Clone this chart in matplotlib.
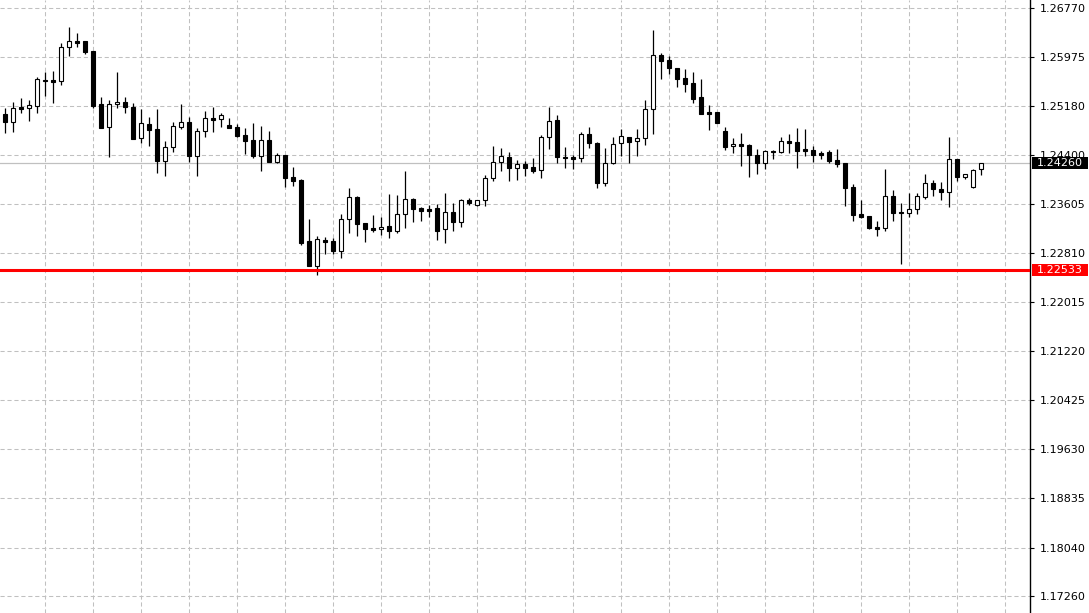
import matplotlib
matplotlib.use("Agg")
import matplotlib.pyplot as plt
import matplotlib.transforms as mtransforms
from matplotlib.patches import Rectangle
import numpy as np

plt.rcParams['lines.scale_dashes'] = False
plt.rcParams['font.family'] = ['DejaVu Sans']

opens = [1.25057, 1.24933, 1.25171, 1.25160, 1.25192, 1.25613, 1.25603, 1.25597, 1.26137, 1.26234,
         1.26240, 1.26078, 1.25214, 1.24852, 1.25214, 1.25252, 1.25165, 1.24663, 1.24890, 1.24814,
         1.24301, 1.24517, 1.24852, 1.24922, 1.24382, 1.24776, 1.24992, 1.24971, 1.24874, 1.24841,
         1.24712, 1.24636, 1.24382, 1.24636, 1.24285, 1.24393, 1.24031, 1.23988, 1.23000, 1.22595,
         1.23016, 1.23000, 1.22843, 1.23351, 1.23707, 1.23286, 1.23205, 1.23200, 1.23243, 1.23167,
         1.23432, 1.23680, 1.23529, 1.23518, 1.23529, 1.23189, 1.23464, 1.23302, 1.23659, 1.23578,
         1.23659, 1.24015, 1.24274, 1.24366, 1.24188, 1.24247, 1.24199, 1.24145, 1.24679, 1.24960,
         1.24366, 1.24366, 1.24339, 1.24728, 1.24582, 1.23945, 1.24258, 1.24582, 1.24679, 1.24620,
         1.24663, 1.25133, 1.26013, 1.25932, 1.25802, 1.25640, 1.25554, 1.25327, 1.25090, 1.25090,
         1.24782, 1.24533, 1.24571, 1.24555, 1.24393, 1.24269, 1.24458, 1.24436, 1.24620, 1.24598,
         1.24490, 1.24469, 1.24425, 1.24436, 1.24312, 1.24263, 1.23875, 1.23437, 1.23405, 1.23227,
         1.23205, 1.23729, 1.23475, 1.23459, 1.23513, 1.23718, 1.23934, 1.23842, 1.23799, 1.24328,
         1.24031, 1.23869, 1.24166]
highs = [1.25160, 1.25257, 1.25311, 1.25284, 1.25662, 1.25738, 1.25754, 1.26202, 1.26472, 1.26364,
         1.26245, 1.26080, 1.25327, 1.25284, 1.25732, 1.25338, 1.25230, 1.25138, 1.25003, 1.25138,
         1.24620, 1.24922, 1.25214, 1.25003, 1.24825, 1.25111, 1.25165, 1.25068, 1.24992, 1.24895,
         1.24825, 1.24906, 1.24863, 1.24787, 1.24431, 1.24398, 1.24204, 1.23999, 1.23356, 1.23081,
         1.23070, 1.23043, 1.23432, 1.23853, 1.23729, 1.23290, 1.23421, 1.23383, 1.23756, 1.23750,
         1.24134, 1.23691, 1.23556, 1.23583, 1.23594, 1.23772, 1.23610, 1.23675, 1.23691, 1.23665,
         1.24069, 1.24539, 1.24501, 1.24436, 1.24312, 1.24296, 1.24339, 1.24717, 1.25165, 1.25041,
         1.24528, 1.24393, 1.24760, 1.24841, 1.24609, 1.24501, 1.24679, 1.24809, 1.24685, 1.24814,
         1.25284, 1.26418, 1.26040, 1.26002, 1.25805, 1.25781, 1.25732, 1.25619, 1.25203, 1.25092,
         1.24852, 1.24674, 1.24744, 1.24571, 1.24485, 1.24474, 1.24474, 1.24690, 1.24733, 1.24836,
         1.24809, 1.24544, 1.24458, 1.24474, 1.24490, 1.24265, 1.23923, 1.23664, 1.23408, 1.23324,
         1.24166, 1.23826, 1.23610, 1.23783, 1.23783, 1.24080, 1.23988, 1.23961, 1.24679, 1.24330,
         1.24082, 1.24166, 1.24262]
lows = [1.24744, 1.24771, 1.25079, 1.24949, 1.25079, 1.25349, 1.25230, 1.25522, 1.26002, 1.26148,
        1.26035, 1.25149, 1.24830, 1.24355, 1.25160, 1.25079, 1.24650, 1.24593, 1.24539, 1.24107,
        1.24058, 1.24436, 1.24809, 1.24285, 1.24058, 1.24690, 1.24771, 1.24852, 1.24830, 1.24679,
        1.24409, 1.24339, 1.24139, 1.24280, 1.24258, 1.23880, 1.23896, 1.22935, 1.22590, 1.22449,
        1.22784, 1.22784, 1.22730, 1.23140, 1.23086, 1.22989, 1.23151, 1.23097, 1.23059, 1.23135,
        1.23216, 1.23313, 1.23324, 1.23383, 1.23016, 1.22962, 1.23167, 1.23232, 1.23583, 1.23575,
        1.23572, 1.23977, 1.24139, 1.23977, 1.23988, 1.24053, 1.24096, 1.24015, 1.24496, 1.24269,
        1.24188, 1.24166, 1.24285, 1.24512, 1.23853, 1.23896, 1.24242, 1.24382, 1.24258, 1.24377,
        1.24555, 1.24733, 1.25624, 1.25705, 1.25500, 1.25419, 1.25241, 1.25060, 1.24798, 1.24906,
        1.24474, 1.24420, 1.24220, 1.24031, 1.24085, 1.24166, 1.24323, 1.24430, 1.24431, 1.24188,
        1.24382, 1.24285, 1.24323, 1.24258, 1.24204, 1.23572, 1.23324, 1.23378, 1.23194, 1.23081,
        1.23167, 1.23324, 1.22627, 1.23383, 1.23437, 1.23680, 1.23734, 1.23664, 1.23545, 1.23977,
        1.24010, 1.23865, 1.24069]
closes = [1.24933, 1.25149, 1.25144, 1.25198, 1.25619, 1.25592, 1.25581, 1.26137, 1.26234, 1.26213,
          1.26067, 1.25187, 1.24836, 1.25214, 1.25252, 1.25165, 1.24658, 1.24906, 1.24803, 1.24301,
          1.24517, 1.24857, 1.24922, 1.24382, 1.24776, 1.24987, 1.24965, 1.25036, 1.24836, 1.24706,
          1.24625, 1.24382, 1.24636, 1.24285, 1.24393, 1.24026, 1.23977, 1.22973, 1.22595, 1.23032,
          1.22989, 1.22843, 1.23351, 1.23707, 1.23281, 1.23189, 1.23178, 1.23237, 1.23167, 1.23432,
          1.23675, 1.23524, 1.23491, 1.23491, 1.23167, 1.23464, 1.23302, 1.23659, 1.23610, 1.23659,
          1.24015, 1.24274, 1.24377, 1.24188, 1.24242, 1.24188, 1.24139, 1.24679, 1.24938, 1.24355,
          1.24339, 1.24323, 1.24728, 1.24582, 1.23945, 1.24258, 1.24566, 1.24695, 1.24609, 1.24668,
          1.25133, 1.26013, 1.25921, 1.25797, 1.25630, 1.25549, 1.25306, 1.25063, 1.25063, 1.24917,
          1.24528, 1.24571, 1.24544, 1.24388, 1.24269, 1.24458, 1.24436, 1.24620, 1.24593, 1.24463,
          1.24463, 1.24398, 1.24398, 1.24301, 1.24253, 1.23864, 1.23426, 1.23394, 1.23216, 1.23200,
          1.23729, 1.23459, 1.23454, 1.23513, 1.23729, 1.23934, 1.23837, 1.23799, 1.24328, 1.24042,
          1.24080, 1.24145, 1.24260]

price_ticks = [1.26770, 1.25975, 1.25180, 1.24400, 1.23605, 1.22810, 1.22015,
               1.21220, 1.20425, 1.19630, 1.18835, 1.18040, 1.17260]
price_labels = ["1.26770", "1.25975", "1.25180", "1.24400", "1.23605", "1.22810", "1.22015",
                "1.21220", "1.20425", "1.19630", "1.18835", "1.18040", "1.17260"]
bid_price = 1.24260
bid_label = "1.24260"
level_price = 1.22533
level_label = "1.22533"

W, H = 1089, 613
fig = plt.figure(figsize=(W / 100, H / 100), dpi=100)
fig.patch.set_facecolor('white')
ax = fig.add_axes([0, 0, 1030 / W, 1])
ax.set_facecolor('white')

n = len(opens)
x = np.arange(n)
o = np.array(opens); c = np.array(closes); h = np.array(highs); l = np.array(lows)
bull = c >= o

grid_kw = dict(color='#c0c0c0', linewidth=0.75, linestyle=(0, (3, 2)))
# horizontal grid
for p in price_ticks:
    ax.axhline(p, zorder=0, **grid_kw)
# vertical grid every 6 bars
for gx in range(5, n + 6, 6):
    ax.axvline(gx, zorder=0, **grid_kw)

# bid line
ax.axhline(bid_price, color='#c0c0c0', linewidth=0.9, zorder=1)

# wicks
ax.vlines(x, l, h, color='black', linewidth=0.9, zorder=2)
# bodies
bottoms = np.minimum(o, c)
heights = np.maximum(np.abs(c - o), 0.00012)
ax.bar(x, heights, bottom=bottoms, width=0.55,
       color=np.where(bull, 'white', 'black'), edgecolor='black', linewidth=0.8, zorder=3)

# red level line
ax.axhline(level_price, color='#ff0000', linewidth=2.2, zorder=4)

ax.set_xlim(-0.6625, 128.09)
ax.set_ylim(1.16980, 1.26904)

for s in ['top', 'left', 'bottom']:
    ax.spines[s].set_visible(False)
ax.spines['right'].set_color('black')
ax.spines['right'].set_linewidth(1.0)
ax.yaxis.tick_right()
ax.set_yticks(price_ticks)
ax.set_yticklabels(price_labels)
ax.tick_params(axis='y', direction='out', length=3, width=0.8, pad=4, labelsize=8, colors='black')
ax.set_xticks([])

# price boxes on the axis
blend = mtransforms.blended_transform_factory(fig.transFigure, ax.transData)
box_h = 0.00194
for price, label, col in [(bid_price, bid_label, 'black'), (level_price, level_label, '#ff0000')]:
    r = Rectangle((1032 / W, price - box_h / 2), (1088 - 1032) / W, box_h,
                  transform=blend, facecolor=col, edgecolor='none', zorder=10, clip_on=False)
    fig.add_artist(r)
    fig.text(1037 / W, price, label, transform=blend, color='white', fontsize=8,
             va='center', ha='left', zorder=11)

fig.savefig('out.png', dpi=100, facecolor='white')
